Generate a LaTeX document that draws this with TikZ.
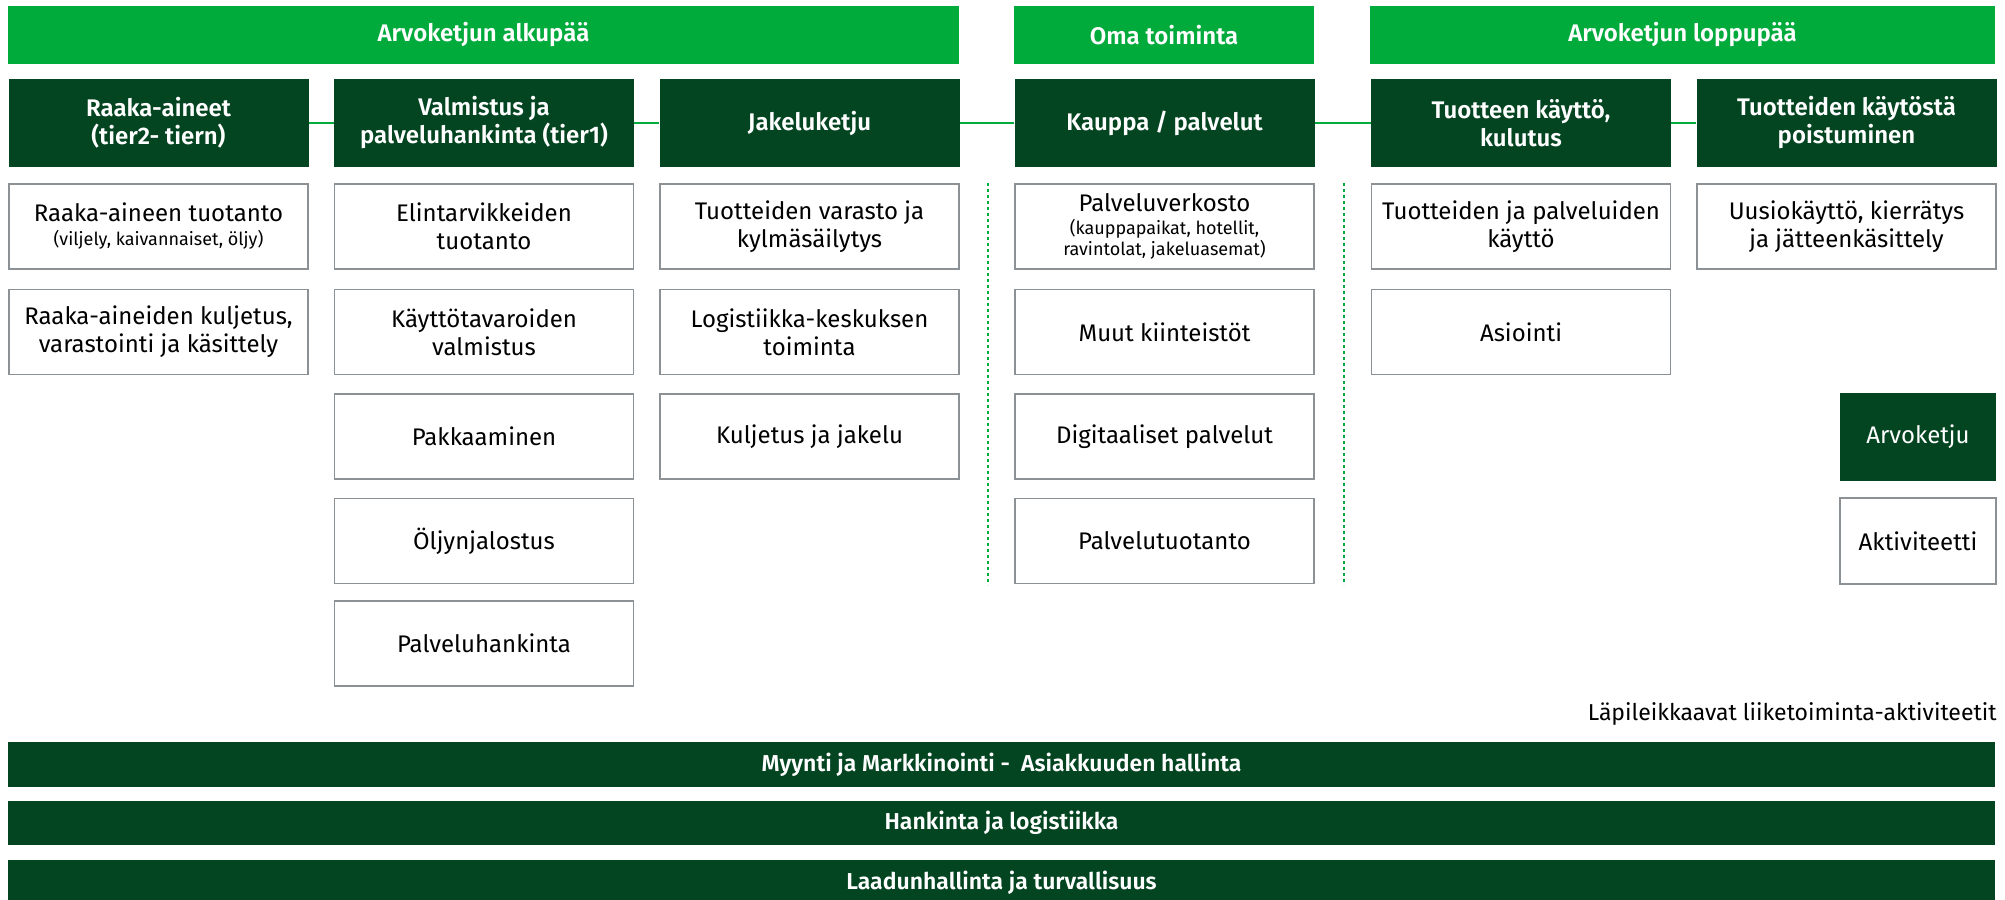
\documentclass[tikz,border=0pt]{standalone}
\usepackage{fontspec}
\setmainfont{Fira Sans}[BoldFont={Fira Sans SemiBold}]
\definecolor{brightgreen}{HTML}{00AB3C}
\definecolor{darkgreen}{HTML}{034421}
\definecolor{boxgray}{HTML}{8C9196}
\newcommand{\subtxt}{\fontsize{9}{10}\selectfont}
\begin{document}
\begin{tikzpicture}[x=0.5pt,y=-0.5pt,
  topbar/.style={fill=brightgreen, text=white, font=\bfseries\fontsize{12}{14}\selectfont, minimum height=29pt, inner sep=0pt},
  head/.style={fill=darkgreen, text=white, font=\bfseries\fontsize{12}{14}\selectfont, align=center, minimum width=150pt, minimum height=44pt, inner sep=0pt},
  wbox/.style={draw=boxgray, line width=0.7pt, fill=white, font=\fontsize{12}{14}\selectfont, align=center, minimum width=149.5pt, minimum height=42.5pt, inner sep=0pt},
  legdark/.style={fill=darkgreen, text=white, font=\fontsize{12}{14}\selectfont, minimum width=78pt, minimum height=44pt, inner sep=0pt},
  legwhite/.style={draw=boxgray, line width=0.7pt, fill=white, font=\fontsize{12}{14}\selectfont, minimum width=78pt, minimum height=43pt, inner sep=0pt},
  botbar/.style={fill=darkgreen, text=white, font=\bfseries\fontsize{11.5}{13}\selectfont, minimum width=993.5pt, inner sep=0pt},
  conn/.style={draw=brightgreen, line width=1.4pt},
  dotline/.style={draw=brightgreen, line width=1.3pt, dash pattern=on 1.3pt off 1.7pt}
]
\clip (0,0) rectangle (2005,899);
\fill[white] (0,0) rectangle (2005,899);

% top bars
\node[topbar, minimum width=475.5pt] (alku) at (483.5,35) {Arvoketjun alkupää};
\node[topbar, minimum width=150pt] (oma) at (1164,35) {Oma toiminta};
\node[topbar, minimum width=312.5pt] (loppu) at (1682.5,35) {Arvoketjun loppupää};

% headers
\node[head] (h1) at (158.5,123) {Raaka-aineet\\(tier2- tiern)};
\node[head] (h2) at (484,123) {Valmistus ja\\palveluhankinta (tier1)};
\node[head] (h3) at (809.5,123) {Jakeluketju};
\node[head] (h4) at (1164.5,123) {Kauppa / palvelut};
\node[head] (h5) at (1521,123) {Tuotteen käyttö,\\kulutus};
\node[head] (h6) at (1846.5,123) {Tuotteiden käytöstä\\poistuminen};

\draw[conn] (h1) -- (h2);
\draw[conn] (h2) -- (h3);
\draw[conn] (h3) -- (h4);
\draw[conn] (h4) -- (h5);
\draw[conn] (h5) -- (h6);

% column 1
\node[wbox] (a1) at (158.5,226.5) {Raaka-aineen tuotanto\\[-2pt]{\subtxt (viljely, kaivannaiset, öljy)}};
\node[wbox] (a2) at (158.5,332) {Raaka-aineiden kuljetus,\\varastointi ja käsittely};
% column 2
\node[wbox] (b1) at (484,226.5) {Elintarvikkeiden\\tuotanto};
\node[wbox] (b2) at (484,332) {Käyttötavaroiden\\valmistus};
\node[wbox] (b3) at (484,436.5) {Pakkaaminen};
\node[wbox] (b4) at (484,541) {Öljynjalostus};
\node[wbox] (b5) at (484,643.5) {Palveluhankinta};
% column 3
\node[wbox] (c1) at (809.5,226.5) {Tuotteiden varasto ja\\kylmäsäilytys};
\node[wbox] (c2) at (809.5,332) {Logistiikka-keskuksen\\toiminta};
\node[wbox] (c3) at (809.5,436.5) {Kuljetus ja jakelu};
% column 4
\node[wbox] (d1) at (1164.5,226.5) {Palveluverkosto\\[-2.5pt]{\subtxt (kauppapaikat, hotellit,}\\[-3.5pt]{\subtxt ravintolat, jakeluasemat)}};
\node[wbox] (d2) at (1164.5,332) {Muut kiinteistöt};
\node[wbox] (d3) at (1164.5,436.5) {Digitaaliset palvelut};
\node[wbox] (d4) at (1164.5,541) {Palvelutuotanto};
% column 5
\node[wbox] (e1) at (1521,226.5) {Tuotteiden ja palveluiden\\käyttö};
\node[wbox] (e2) at (1521,332) {Asiointi};
% column 6
\node[wbox] (f1) at (1846.5,226.5) {Uusiokäyttö, kierrätys\\ja jätteenkäsittely};

% dotted separators
\coordinate (dt1) at (988,183);
\coordinate (db1) at (988,585);
\coordinate (dt2) at (1344,183);
\coordinate (db2) at (1344,585);
\draw[dotline] (dt1) -- (db1);
\draw[dotline] (dt2) -- (db2);

% legend
\node[legdark] (lg1) at (1918,437) {Arvoketju};
\node[legwhite] (lg2) at (1918,541) {Aktiviteetti};

% cross-cutting
\node[anchor=east, inner sep=0pt, font=\fontsize{11.5}{14}\selectfont] (lapi) at (1997,714) {Läpileikkaavat liiketoiminta-aktiviteetit};
\node[botbar, minimum height=22.5pt] (bb1) at (1001.5,764.5) {Myynti ja Markkinointi -\ \ Asiakkuuden hallinta};
\node[botbar, minimum height=22pt] (bb2) at (1001.5,823) {Hankinta ja logistiikka};
\node[botbar, minimum height=22.5pt] (bb3) at (1001.5,882.5) {Laadunhallinta ja turvallisuus};
\end{tikzpicture}
\end{document}
